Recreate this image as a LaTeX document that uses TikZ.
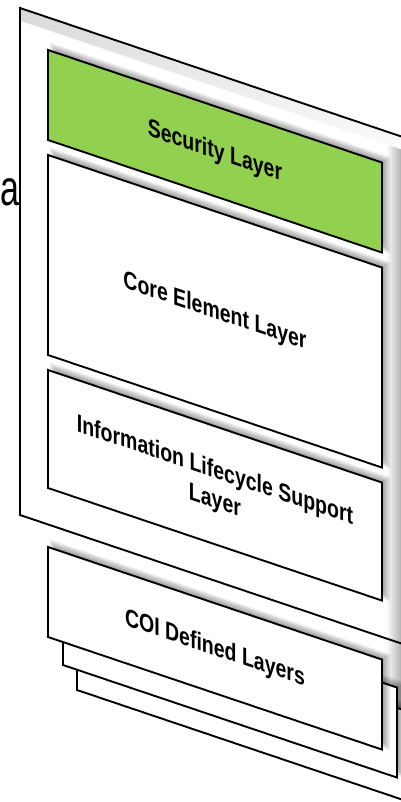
\documentclass[tikz,border=0pt]{standalone}
\usepackage{fontspec}
\newfontfamily\lsans{Liberation Sans}
\definecolor{secgreen}{HTML}{92D050}
\newcommand\softshadow[4]{%
  \foreach \k in {0,1.5,3,4.5,6,7.5}{%
    \fill[black,opacity=0.08] ({#1+2+\k},{#2-8+\k}) rectangle ({#3+8-\k},{#4-2-\k});}}
\begin{document}
\begin{tikzpicture}[x=1pt,y=-1pt,
  layer/.style={draw=black, line width=1.9pt, fill=white, line join=miter},
  lbl/.style={font=\lsans\bfseries\fontsize{25}{30}\selectfont, align=center,
              transform shape, xscale=0.78, inner sep=0pt}]
\useasboundingbox (0,0) rectangle (401,802);
\fill[white] (0,0) rectangle (401,802);
\clip (0,0) rectangle (401,802);

\node[font=\lsans\fontsize{50}{50}\selectfont, xscale=0.68, anchor=base east, inner sep=0pt] (a) at (19.6,206) {a};

% big panel fill
\begin{scope}[yslant=-0.337]
  \fill[white] (20,1.26) rectangle (440,508.26);
\end{scope}
% grey strip on the right
\shade[left color=white, right color=black!30] (386,131) -- (401,136) -- (401,712) -- (386,712) -- cycle;

\begin{scope}[yslant=-0.337]
  \shade[top color=black!15, bottom color=white] (21,1.26) rectangle (440,14);
  \draw[line width=1.9pt] (20,1.26) rectangle (440,508.26);

  % security layer
  \softshadow{48}{33.82}{382}{123.82}
  \draw[layer, fill=secgreen] (48,33.82) rectangle (382,123.82);
  \node[lbl] (sec) at (215,79.5) {Security Layer};

  % core element layer
  \softshadow{48}{138.82}{382}{338.82}
  \draw[layer] (48,138.82) rectangle (382,338.82);
  \node[lbl] (core) at (215,239.5) {Core Element Layer};

  % information lifecycle support layer
  \softshadow{48}{353.82}{382}{471.82}
  \draw[layer] (48,353.82) rectangle (382,471.82);
  \node[lbl] (info) at (215,414) {Information Lifecycle Support\\Layer};

  % COI defined layers (stack)
  \softshadow{77}{574.05}{411}{664.05}
  \draw[layer] (77,574.05) rectangle (411,664.05);
  \softshadow{63}{553.77}{397}{643.77}
  \draw[layer] (63,553.77) rectangle (397,643.77);
  \softshadow{48}{530.82}{382}{620.82}
  \draw[layer] (48,530.82) rectangle (382,620.82);
  \node[lbl] (coi) at (215,576.5) {COI Defined Layers};
\end{scope}
\end{tikzpicture}
\end{document}
